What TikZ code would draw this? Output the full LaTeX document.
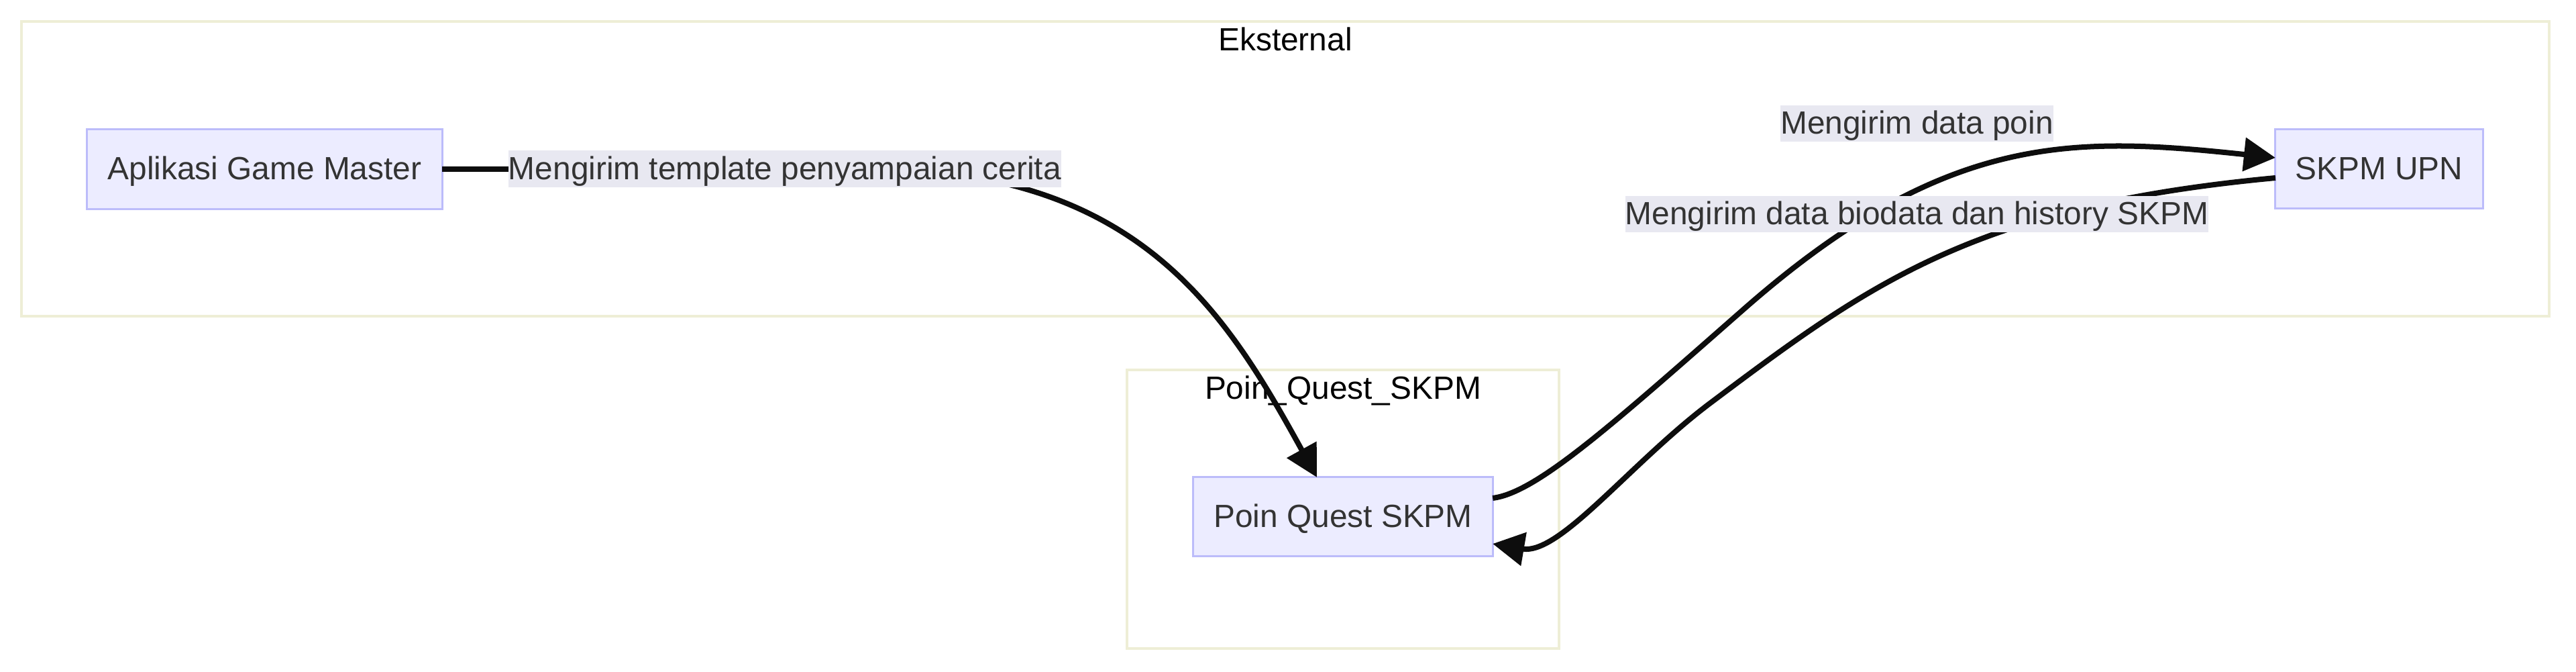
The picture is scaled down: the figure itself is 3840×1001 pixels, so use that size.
\documentclass[tikz,border=0pt]{standalone}
\usepackage{fontspec}
\setmainfont{Liberation Sans}
\usetikzlibrary{arrows.meta}
\definecolor{nodefill}{RGB}{236,236,255}
\definecolor{nodeline}{RGB}{188,188,250}
\definecolor{clusterline}{RGB}{238,238,214}
\definecolor{labelfill}{RGB}{232,232,241}
\definecolor{txt}{RGB}{51,51,51}
\definecolor{edgecol}{RGB}{13,13,13}
\begin{document}
\begin{tikzpicture}[x=0.01cm,y=-0.01cm,
  font=\fontsize{13.6pt}{16pt}\selectfont,
  box/.style={draw=nodeline, fill=nodefill, line width=0.03cm, text=txt,
    inner sep=0pt, outer sep=0pt, text height=0.395cm, text depth=0.085cm},
  elabel/.style={fill=labelfill, text=txt, inner xsep=0pt, inner ysep=0pt,
    outer sep=0pt, minimum height=0.545cm, text height=0.395cm, text depth=0.085cm},
  cluster/.style={draw=clusterline, fill=white, line width=0.035cm},
  ctitle/.style={text=black, inner sep=0pt, anchor=base},
  conn/.style={draw=edgecol, line width=0.08cm, -{Triangle[length=0.47cm,width=0.49cm]}},
]
\useasboundingbox (0,0) rectangle (3840,1001);
\fill[white] (0,0) rectangle (3840,1001);

% clusters
\draw[cluster] (32,32) rectangle (3800,471);
\node[ctitle] (t1) at (1916,76) {Eksternal};
\draw[cluster] (1680,551) rectangle (2324,966);
\node[ctitle] (t2) at (2002,595) {Poin\_Quest\_SKPM};

% nodes
\node[box, minimum width=5.29cm, minimum height=1.18cm] (A) at (394.5,252) {Aplikasi Game Master};
\node[box, minimum width=4.46cm, minimum height=1.17cm] (PQ) at (2002,769.5) {Poin Quest SKPM};
\node[box, minimum width=3.09cm, minimum height=1.17cm] (SK) at (3546.5,251.5) {SKPM UPN};

% edges
\draw[conn] (A.east) -- (1300,252) .. controls (1700,252) and (1830,470) .. ([xshift=-0.39cm]PQ.north);
\draw[conn] ([yshift=0.275cm]PQ.east) .. controls (2290,734) and (2400,635.5) .. (2600,460)
   .. controls (2901,196) and (3091,203) .. ([yshift=0.165cm]SK.west);
\draw[conn] ([yshift=-0.135cm]SK.west) .. controls (2944,307) and (2790,420) .. (2550,600)
   .. controls (2430,690) and (2325,827) .. ([yshift=-0.405cm]PQ.east);

% edge labels
\node[elabel] (L1) at (1170,251.5) {Mengirim template penyampaian cerita};
\node[elabel] (L2) at (2857.5,184) {Mengirim data poin};
\node[elabel] (L3) at (2857.5,319) {Mengirim data biodata dan history SKPM};
\end{tikzpicture}
\end{document}
